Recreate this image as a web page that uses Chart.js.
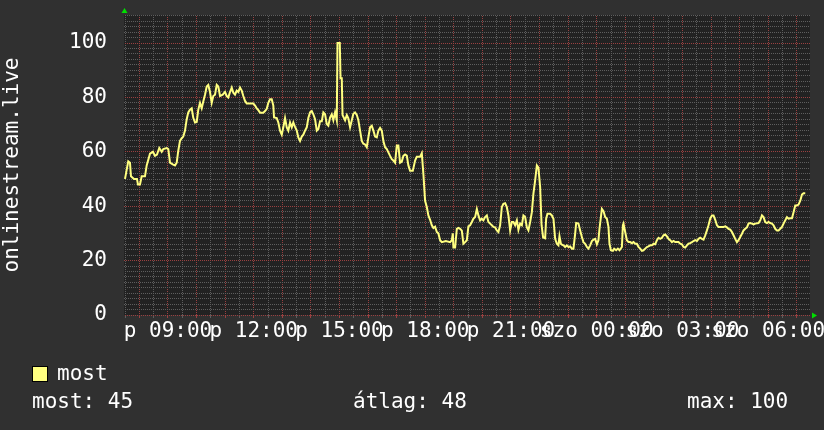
<!DOCTYPE html>
<html><head><meta charset="utf-8">
<script src="https://cdn.jsdelivr.net/npm/chart.js@4/dist/chart.umd.min.js"></script>
<style>
html,body{margin:0;padding:0;background:#303030;}
#wrap{position:relative;width:824px;height:430px;overflow:hidden;font-family:"DejaVu Sans Mono",monospace;color:#ffffff;}
canvas{position:absolute;left:0;top:0;}
.t{position:absolute;font-size:21px;line-height:21px;white-space:pre;}
.box{position:absolute;left:32px;top:366px;width:14px;height:14px;background:#ffff80;border:1px solid #000;}
</style></head><body>
<div id="wrap">
<canvas id="c" width="824" height="430"></canvas>
<div class="box"></div>
<div class="t" id="lgName" style="left:57px;top:363px"></div>
<div class="t" id="stCur" style="left:32px;top:391px"></div>
<div class="t" id="stAvg" style="left:353px;top:391px"></div>
<div class="t" id="stMax" style="left:687px;top:391px"></div>
</div>
<script>
// ---- data (time of day in hours; values above 24 are the next day) ----
const hours = [
7.495,7.61,7.67,7.705,7.81,7.915,7.95,8.02,8.08,8.195,
8.255,8.37,8.475,8.545,8.615,8.695,8.78,8.835,8.955,9.01,
9.07,9.165,9.245,9.305,9.36,9.42,9.48,9.535,9.595,9.655,
9.71,9.77,9.83,9.885,9.945,10.005,10.06,10.12,10.18,10.235,
10.295,10.355,10.41,10.47,10.53,10.585,10.645,10.705,10.76,10.82,
10.915,10.995,11.055,11.11,11.17,11.23,11.285,11.345,11.405,11.46,
11.52,11.58,11.635,11.695,11.755,11.87,11.985,12.045,12.105,12.16,
12.22,12.335,12.395,12.455,12.51,12.57,12.63,12.685,12.71,12.805,
12.86,12.92,12.98,13.035,13.095,13.155,13.21,13.27,13.33,13.385,
13.445,13.505,13.56,13.62,13.68,13.735,13.795,13.855,13.91,13.97,
14.03,14.085,14.145,14.205,14.26,14.32,14.38,14.435,14.495,14.555,
14.61,14.67,14.73,14.785,14.845,14.905,14.93,15.01,15.037,15.08,
15.107,15.195,15.255,15.31,15.37,15.43,15.485,15.545,15.605,15.66,
15.72,15.78,15.835,15.895,15.955,16.01,16.07,16.13,16.185,16.245,
16.305,16.36,16.42,16.48,16.535,16.595,16.655,16.71,16.77,16.83,
16.885,16.945,17.005,17.06,17.12,17.18,17.235,17.295,17.355,17.41,
17.47,17.565,17.645,17.705,17.82,17.88,17.935,17.995,18.055,18.11,
18.17,18.23,18.285,18.345,18.405,18.46,18.52,18.58,18.72,18.87,
18.93,18.965,18.985,19.045,19.105,19.16,19.22,19.28,19.335,19.395,
19.455,19.51,19.57,19.63,19.685,19.745,19.805,19.86,19.92,19.98,
20.035,20.095,20.155,20.21,20.27,20.33,20.385,20.445,20.505,20.56,
20.62,20.68,20.735,20.795,20.855,20.91,20.97,21.03,21.085,21.145,
21.205,21.26,21.32,21.38,21.435,21.495,21.555,21.61,21.67,21.73,
21.785,21.845,21.905,21.96,22.02,22.07,22.125,22.195,22.23,22.276,
22.37,22.43,22.486,22.545,22.605,22.66,22.696,22.745,22.78,22.836,
22.895,22.955,23.01,23.07,23.13,23.186,23.245,23.28,23.36,23.42,
23.48,23.536,23.595,23.655,23.71,23.77,23.83,23.886,23.945,24.005,
24.06,24.096,24.145,24.18,24.236,24.295,24.355,24.41,24.446,24.495,
24.565,24.61,24.68,24.74,24.796,24.88,24.915,24.936,24.995,25.055,
25.11,25.17,25.23,25.286,25.345,25.405,25.46,25.52,25.58,25.636,
25.695,25.755,25.81,25.87,25.93,25.986,26.045,26.105,26.16,26.22,
26.28,26.336,26.395,26.455,26.51,26.57,26.63,26.686,26.745,26.86,
26.92,26.98,27.036,27.095,27.155,27.21,27.27,27.33,27.386,27.445,
27.505,27.56,27.62,27.68,27.736,27.795,27.855,27.91,27.97,28.03,
28.086,28.145,28.205,28.26,28.436,28.495,28.555,28.61,28.67,28.73,
28.786,28.845,28.905,28.96,29.02,29.08,29.136,29.195,29.255,29.31,
29.37,29.43,29.486,29.545,29.66,29.72,29.78,29.836,29.895,29.955,
30.01,30.07,30.13,30.186,30.245,30.305,30.36,30.42,30.48,30.536,
30.595,30.655,30.71,30.77,30.83,30.886,30.945,31.005,31.06,31.12,
31.18,31.236,31.295
];
const most = [
50,56.5,56,51,50,50,48,48,51,51,
55,59.3,60,58.5,59,61.4,60,61,61.4,61,
56,55.4,55,56,60.4,64,65,65.6,67.8,72,
74.5,75.5,76,72.5,70.8,71,75.5,78,76,78.5,
81,84,84.6,82,78,80.5,81,84.6,84,80.5,
81,82,80.5,80,82,83.6,81.7,81,82.5,82,
83.6,82.5,80.5,78.7,77.8,77.8,77.8,77,76,75.3,
74.4,74.4,75,75.8,78,79.3,79.3,77,72.6,72.4,
70.8,67.8,66.3,69,72.4,69,67.8,70.8,69,70.8,
69.2,67.8,65.3,64,65.6,66.3,67.8,69,72.4,74.5,
75,73.8,72,67.8,68.4,71.2,71.2,74.5,73.8,70.2,
69.6,72.6,73.8,71.6,74.5,71.6,100,100,87,87,
73.5,71.6,73.5,72.3,69,71.6,74,74.5,73.6,71.6,
67.8,64,63,62.7,61.7,65.3,69,69.6,67.8,65.6,
65.3,67.8,68.8,67.8,64,61.7,61,59.8,58.5,57.3,
56.8,56,62.3,62.3,56,56.4,58.5,59,58.6,55,
53,53,56.8,58.2,58.2,59.5,51.9,42,39.7,36.6,
35,33,32,32.5,30.5,30,27.5,26.8,27.2,26.8,
27.5,30,24.8,24.8,31.7,32,31.7,31,26.2,26.8,
27.5,32.6,33,34.2,35.4,36,39,36.6,34.8,35.4,
34.8,36,36.6,34.2,33.6,33,32.4,32.2,31.1,30.5,
33,39.7,40.9,41.1,39.7,36.6,31.1,34.2,34.2,33,
34.8,31.3,33.6,33,36.6,36,32.2,31.1,34.2,37.8,
44.6,49.5,55,54.2,47,33,28.5,28.2,35.4,37.2,
37.2,36.6,35.4,28,26.2,25.6,29,26.2,25.9,25.6,
25,25.6,25,25.2,24.4,24.4,29.9,33.8,33.6,31.1,
28.7,26.8,26.2,25,24.4,25.6,27.2,27.7,28,26,
27.5,31.7,36,39,38.2,36,35.4,32.4,26.2,23.8,
23.6,24.4,23.8,24.4,23.8,25,33,33.6,30.5,27.5,
26.8,26.8,26.4,26.8,26.2,26.2,25,24.4,23.6,23.8,
24.4,25,25.2,25.6,25.6,26.2,26,27.5,28.4,28,
28.4,29.3,29.6,28.9,28,27.5,26.8,27.2,26.8,26.8,
26.2,26,25,24.8,25.6,26.2,26.4,26.8,27.2,27.5,
27.2,28,28.4,28,27.7,29.3,31.1,33,35.4,36.6,
36.6,35,33,32.4,32.4,32.6,32.2,31.7,31.4,30.5,
29.3,28,26.8,27.5,28.7,29.9,31.1,31.7,32.2,33.6,
33.8,33.6,33.3,33.6,33.8,34.8,36.6,36,34.2,33.8,
34.2,33.8,33.6,33,31.7,31.1,31.1,31.7,32.4,33.6,
34.8,36,35.4,35.6,35.6,37.8,40.3,40.3,40.6,42,
44.3,44.8,44.8
];
const xLabelHours = [9, 12, 15, 18, 21, 24, 27, 30];
const xLabelTexts = ['p 09:00','p 12:00','p 15:00','p 18:00','p 21:00','szo 00:00','szo 03:00','szo 06:00'];
const yLabelValues = [0, 20, 40, 60, 80, 100];
const seriesName = 'most';
const axisTitle = 'onlinestream.live';
const statCurrent = 45, statAverage = 48, statMax = 100;
const xStart = 7.461, xEnd = 31.461;   // 24 h window
const yMin = 0, yMax = 110.3;

// ---- legend text ----
document.getElementById('lgName').textContent = seriesName;
document.getElementById('stCur').textContent = 'most: ' + statCurrent;
document.getElementById('stAvg').textContent = 'átlag: ' + statAverage;
document.getElementById('stMax').textContent = 'max: ' + statMax;

const MAJOR_C = '#9a4040', MINOR_C = '#5e5e5e';
// dotted grid: 2x2 checker pattern so every 1px grid line shows every other pixel
function dotPattern(col) {
  const p = document.createElement('canvas');
  p.width = 2; p.height = 2;
  const g = p.getContext('2d');
  g.fillStyle = col;
  g.fillRect(0, 0, 1, 1);
  g.fillRect(1, 1, 1, 1);
  return document.getElementById('c').getContext('2d').createPattern(p, 'repeat');
}
const MAJOR = dotPattern(MAJOR_C), MINOR = dotPattern(MINOR_C);
const FONT = {family: "'DejaVu Sans Mono', monospace", size: 21};

const deco = {
  id: 'deco',
  beforeDraw(chart) {
    const {ctx, chartArea: a} = chart;
    ctx.save();
    ctx.fillStyle = '#303030';
    ctx.fillRect(0, 0, chart.width, chart.height);
    ctx.fillStyle = '#222222';
    ctx.fillRect(a.left, a.top, a.right - a.left, a.bottom - a.top);
    ctx.restore();
  },
  afterDraw(chart) {
    const {ctx, chartArea: a} = chart;
    ctx.save();
    ctx.fillStyle = '#00e000';
    ctx.beginPath();
    ctx.moveTo(a.left + 0.5, a.top - 7);
    ctx.lineTo(a.left + 3.5, a.top - 2);
    ctx.lineTo(a.left - 2.5, a.top - 2);
    ctx.closePath(); ctx.fill();
    ctx.beginPath();
    ctx.moveTo(a.right + 7, a.bottom + 0.5);
    ctx.lineTo(a.right + 2, a.bottom - 2.5);
    ctx.lineTo(a.right + 2, a.bottom + 3.5);
    ctx.closePath(); ctx.fill();
    ctx.restore();
  }
};

new Chart(document.getElementById('c'), {
  type: 'line',
  data: {
    datasets: [{
      label: seriesName,
      data: hours.map((h, i) => ({x: h, y: most[i]})),
      borderColor: '#ffff80',
      borderWidth: 2,
      pointRadius: 0,
      tension: 0,
      fill: false
    }]
  },
  options: {
    responsive: false,
    animation: false,
    devicePixelRatio: 1,
    layout: {padding: {left: 0, top: 15, right: 14, bottom: 85}},
    plugins: {legend: {display: false}, tooltip: {enabled: false}},
    scales: {
      x: {
        type: 'linear', min: xStart, max: xEnd,
        afterBuildTicks(scale) {
          const t = [];
          for (let v = Math.ceil(xStart * 2) / 2; v <= xEnd; v += 0.5) t.push({value: v});
          scale.ticks = t;
        },
        afterFit(scale) { scale.height = 30; },
        grid: {
          color: c => (c.tick && Number.isInteger(c.tick.value)) ? MAJOR : MINOR,
          tickColor: c => (c.tick && Number.isInteger(c.tick.value)) ? MAJOR_C : MINOR_C,
          lineWidth: 1, drawTicks: true, tickLength: 3
        },
        border: {display: false},
        ticks: {
          autoSkip: false, maxRotation: 0, minRotation: 0, padding: 1,
          color: '#ffffff', font: FONT,
          callback: v => { const i = xLabelHours.indexOf(v); return i >= 0 ? xLabelTexts[i] : ''; }
        }
      },
      y: {
        type: 'linear', min: yMin, max: yMax,
        afterBuildTicks(scale) {
          const t = [];
          for (let v = 0; v <= 110; v += 2) t.push({value: v});
          scale.ticks = t;
        },
        afterFit(scale) { scale.width = 124; },
        grid: {
          color: c => (c.tick && c.tick.value % 20 === 0) ? MAJOR : MINOR,
          tickColor: 'rgba(0,0,0,0)',
          lineWidth: 1, drawTicks: true, tickLength: 17
        },
        border: {display: false},
        title: {display: true, text: axisTitle, color: '#ffffff', font: FONT, padding: 0},
        ticks: {
          autoSkip: false, padding: 0, color: '#ffffff', font: FONT,
          callback: v => yLabelValues.includes(v) ? String(v) : ''
        }
      }
    }
  },
  plugins: [deco]
});
</script>
</body></html>
